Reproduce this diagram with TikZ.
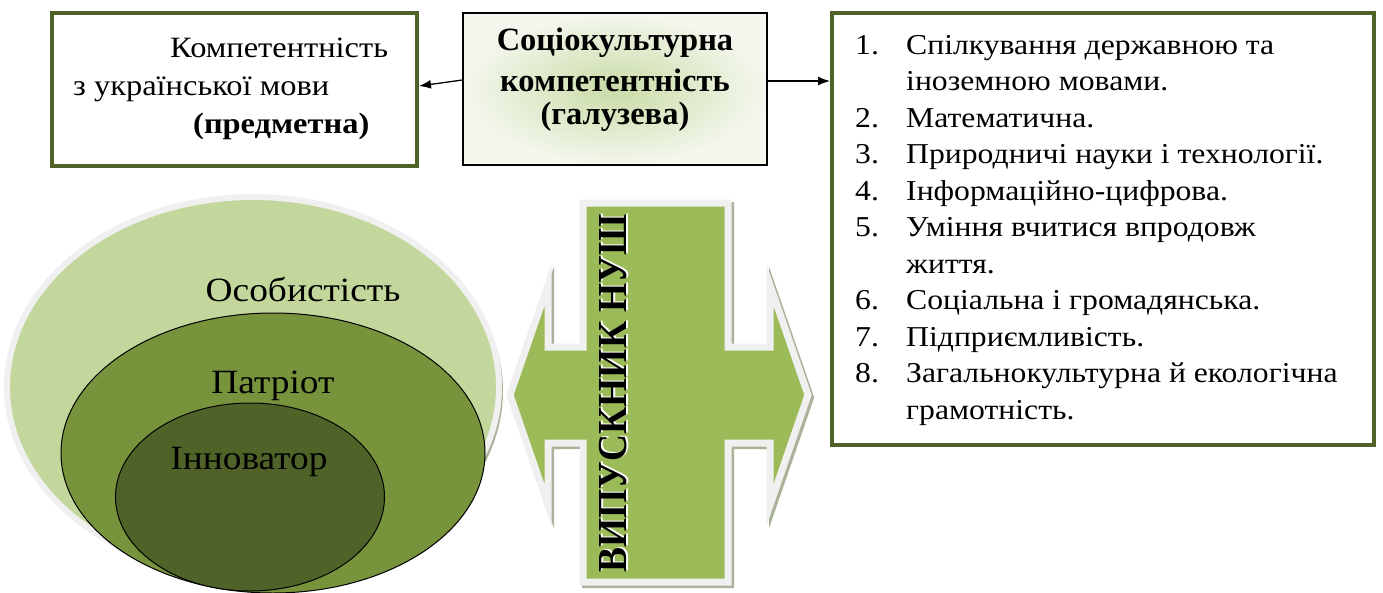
\documentclass[tikz,border=0pt]{standalone}
\usepackage{fontspec}
\setmainfont{Liberation Serif}[FakeStretch=1.1]
\newfontfamily\plainserif{Liberation Serif}
\usetikzlibrary{shapes.geometric,arrows.meta}
\definecolor{olive}{HTML}{4F6228}
\definecolor{lightgr}{HTML}{C3D69B}
\definecolor{midgr}{HTML}{77933C}
\definecolor{crossgr}{HTML}{9BBB59}
\definecolor{rimgray}{HTML}{F0F0F0}
\definecolor{shadowgr}{HTML}{A9B39A}
\definecolor{boxin}{HTML}{C9DCA6}
\definecolor{boxout}{HTML}{F4F7EE}
\tikzset{
  olivebox/.style={draw=olive, line width=4pt, fill=white, inner sep=0pt},
  midbox/.style={draw=black, line width=1.2pt, inner sep=0pt},
  arr/.style={-{Latex[length=12pt,width=9pt]}, line width=1.3pt},
  txt/.style={inner sep=0pt, anchor=base west, font=\fontsize{29.5}{36}\selectfont},
  listtxt/.style={inner sep=0pt, anchor=base west, font=\fontsize{28.8}{34}\selectfont},
  btxt/.style={inner sep=0pt, font=\plainserif\fontsize{32.5}{37}\selectfont\bfseries},
  elltxt/.style={inner sep=0pt, font=\fontsize{34}{40}\selectfont},
  ell/.style={ellipse, inner sep=0pt},
}
\begin{document}
\begin{tikzpicture}[x=1pt,y=-1pt]
\useasboundingbox (0,0) rectangle (1383,592);
\fill[white] (0,0) rectangle (1383,592);

% ---- top boxes ----
\node[olivebox, minimum width=365pt, minimum height=153pt] (lbox) at (234.5,89) {};
\node[txt] (l1) at (170,57) {Компетентність};
\node[txt] (l2) at (73,95) {з української мови};
\node[txt, font=\fontsize{29.5}{36}\selectfont\bfseries] (l3) at (193,133) {(предметна)};

\shade[inner color=boxin, outer color=boxout] (463,13) rectangle (767,165);
\node[midbox, minimum width=304pt, minimum height=152pt] (mbox) at (615,89) {};
\node[btxt] (m1) at (615,43) {Соціокультурна};
\node[btxt] (m2) at (615,80) {компетентність};
\node[btxt] (m3) at (615,117) {(галузева)};

\node[olivebox, minimum width=542pt, minimum height=432pt] (rbox) at (1103,229) {};
\foreach \n/\t [count=\i] in {
  1./{Спілкування державною та},
  /{іноземною мовами.},
  2./{Математична.},
  3./{Природничі науки і технології.},
  4./{Інформаційно-цифрова.},
  5./{Уміння вчитися впродовж},
  /{життя.},
  6./{Соціальна і громадянська.},
  7./{Підприємливість.},
  8./{Загальнокультурна й екологічна},
  /{грамотність.}}{
  \node[listtxt] (num\i) at (855,{54+36.5*(\i-1)}) {\n};
  \node[listtxt] (item\i) at (906,{54+36.5*(\i-1)}) {\t};
}

\draw[arr] ([yshift=9pt]mbox.west) -- ([yshift=3pt]lbox.east);
\draw[arr] ([yshift=8pt]mbox.east) -- ([yshift=8pt]mbox.east -| rbox.west);

% ---- cross / double arrow ----
\def\crosspath{(510,395) -- (548,285) -- (548,347) -- (583,347) -- (583,203) -- (728,203) -- (728,347) -- (770,347) -- (770,285) -- (808,395) -- (770,505) -- (770,443) -- (728,443) -- (728,582) -- (583,582) -- (583,443) -- (548,443) -- (548,505) -- cycle}
\draw[shadowgr, line width=7pt, line join=miter, shift={(2.5pt,-2.5pt)}] \crosspath;
\draw[rimgray, line width=7pt, line join=miter, fill=crossgr] \crosspath;
\node[inner sep=0pt, text=white] (vshadow) at (615.5,392.5) {\rotatebox{90}{\scalebox{1}[1.1]{\plainserif\fontsize{37.5}{40}\selectfont\bfseries ВИПУСКНИК НУШ}}};
\node[inner sep=0pt] (vtext) at (613.5,393.5) {\rotatebox{90}{\scalebox{1}[1.1]{\plainserif\fontsize{37.5}{40}\selectfont\bfseries ВИПУСКНИК НУШ}}};

% ---- ellipses ----
\begin{scope}
\clip (0,0) rectangle (1383,592);
\node[ell, minimum width=492pt, minimum height=380pt, fill=shadowgr] (pshadow) at (257,391) {};
\node[ell, minimum width=492pt, minimum height=380pt, fill=lightgr, draw=rimgray, line width=6pt] (pers) at (253,387) {};
\node[ell, minimum width=424pt, minimum height=280pt, fill=midgr, draw=black, line width=1pt] (patr) at (273,453) {};
\node[ell, minimum width=269pt, minimum height=188pt, fill=olive, draw=black, line width=1pt] (innov) at (250,497) {};
\end{scope}
\node[elltxt] (t1) at (303,289) {Особистість};
\node[elltxt] (t2) at (273,386) {Патріот};
\node[elltxt] (t3) at (249,462) {Інноватор};
\end{tikzpicture}
\end{document}
